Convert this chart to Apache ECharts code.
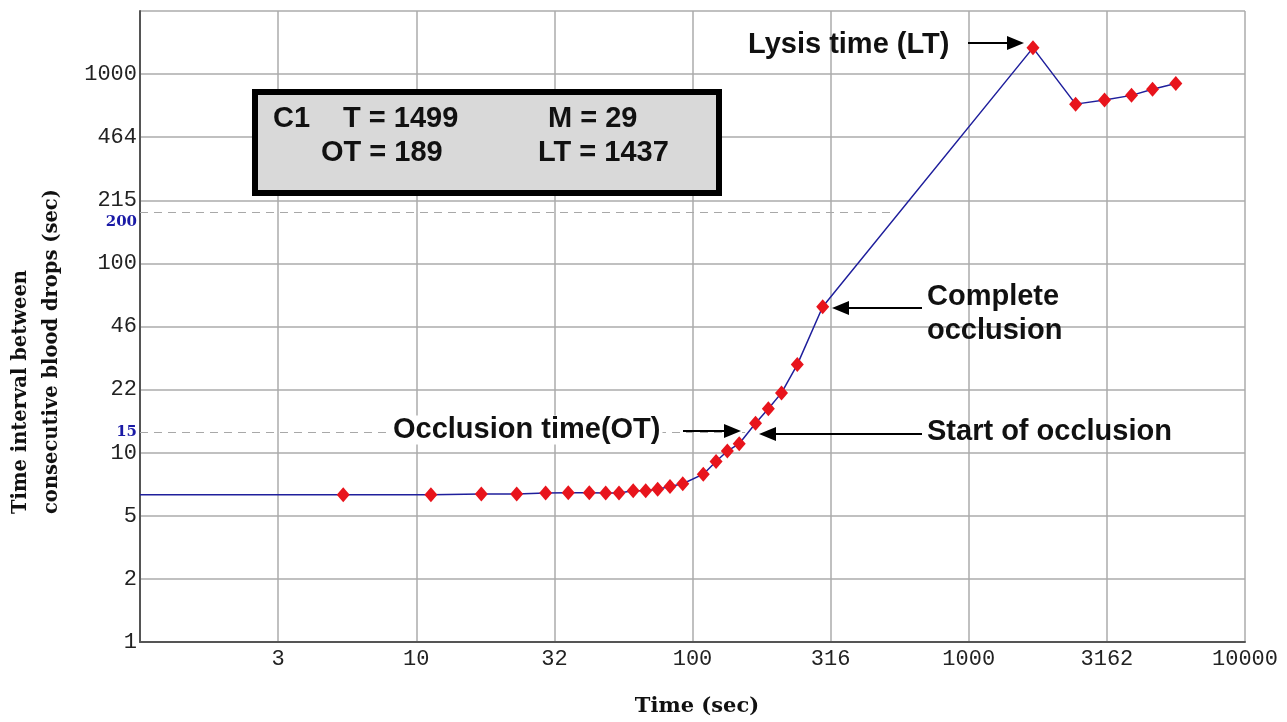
<!DOCTYPE html>
<html>
<head>
<meta charset="utf-8">
<script src="https://cdn.jsdelivr.net/npm/echarts@6/dist/echarts.min.js"></script>
<style>
  html, body { margin: 0; padding: 0; background: #fff; }
  #chart { width: 1287px; height: 722px; }
</style>
</head>
<body>
<div id="chart"></div>
<script>
// time (sec) and interval between drops (sec)
const timeSec = [1, 5.44, 11.3, 17.2, 23.1, 29.4, 35.5, 42.3, 48.5, 54.2, 61.0, 67.7, 74.8, 82.9, 92.2,
    109.4, 121.7, 133.7, 147.6, 169.1, 188.2, 210.0, 239.5, 296.0, 1708, 2437, 3101, 3883, 4627, 5617];
const intervalSec = [5.99, 5.99, 5.99, 6.05, 6.05, 6.12, 6.15, 6.15, 6.12, 6.12, 6.29, 6.29, 6.41, 6.63, 6.85,
    7.70, 8.99, 10.2, 11.16, 14.3, 17.05, 20.7, 29.2, 59.0, 1376, 694, 729, 772, 831, 893];

// tick labels (x: half decades, y: third decades)
const xTickLabels = ['', '3', '10', '32', '100', '316', '1000', '3162', '10000'];
const yTickLabels = ['1', '2', '5', '10', '22', '46', '100', '215', '464', '1000', ''];

// dashed reference lines: y position, end time, label
const refY = [186, 12.9];
const refEnd = [532, 155];
const refLabels = ['200', '15'];

const boxLines = [['C1', 'T = 1499', 'M = 29'], ['', 'OT = 189', 'LT = 1437']];

// log axes drawn as value axes in half-decade / third-decade units
const lx = v => 2 * Math.log10(v);
const ly = v => 3 * Math.log10(v);

const chart = echarts.init(document.getElementById('chart'));

const seriesData = timeSec.map((t, i) => {
    const item = { value: [lx(t), ly(intervalSec[i])] };
    if (i === 0) item.symbol = 'none';
    return item;
});

const refData = refY.map((y, i) => [
    {
        coord: [0, ly(y)],
        label: { formatter: refLabels[i], offset: i === 0 ? [0, 10] : [0, 0] }
    },
    { coord: [lx(refEnd[i]), ly(y)] }
]);

const boldSans = 'bold 29px "Liberation Sans", Arial, sans-serif';

function arrow(x1, y1, x2, y2) {
    const dir = Math.sign(x2 - x1);
    const head = 17, half = 7;
    return [
        { type: 'line', shape: { x1: x1, y1: y1, x2: x2 - dir * head, y2: y2 }, style: { stroke: '#000', lineWidth: 2 }, z: 20 },
        { type: 'polygon', shape: { points: [[x2, y2], [x2 - dir * head, y2 - half], [x2 - dir * head, y2 + half]] }, style: { fill: '#000' }, z: 20 }
    ];
}

function label(text, x, y, extra) {
    return Object.assign({
        type: 'text', x: x, y: y, z: 20,
        style: { text: text, font: boldSans, fill: '#111', verticalAlign: 'middle', align: 'left' }
    }, extra || {});
}

const graphics = [
    { type: 'rect', shape: { x: 255, y: 92, width: 464, height: 101 }, style: { fill: '#d9d9d9', stroke: '#000', lineWidth: 6 }, z: 15 },
    label(boxLines[0][0], 273, 119),
    label(boxLines[0][1], 343, 119),
    label(boxLines[0][2], 548, 119),
    label(boxLines[1][1], 321, 153),
    label(boxLines[1][2], 538, 153),

    label('Lysis time (LT)', 748, 45),
    ...arrow(968, 43, 1024, 43),
    label('Complete', 927, 297),
    label('occlusion', 927, 331),
    ...arrow(922, 308, 832, 308),
    label('Start of occlusion', 927, 432),
    ...arrow(922, 434, 759, 434),
    {
        type: 'text', x: 391, y: 430, z: 20,
        style: { text: 'Occlusion time(OT)', font: boldSans, fill: '#111', verticalAlign: 'middle', align: 'left', backgroundColor: '#fff', padding: [0, 2] }
    },
    ...arrow(683, 431, 741, 431),

    // axis titles
    {
        type: 'text', x: 21, y: 514, rotation: Math.PI / 2,
        style: { text: 'Time interval between', font: 'bold 19.5px "DejaVu Serif", serif', fill: '#111', align: 'left', verticalAlign: 'middle' }
    },
    {
        type: 'text', x: 52, y: 514, rotation: Math.PI / 2,
        style: { text: 'consecutive blood drops (sec)', font: 'bold 19.5px "DejaVu Serif", serif', fill: '#111', align: 'left', verticalAlign: 'middle' }
    },
    {
        type: 'text', x: 697, y: 707,
        style: { text: 'Time (sec)', font: 'bold 21px "DejaVu Serif", serif', fill: '#111', align: 'center', verticalAlign: 'middle' }
    }
];

const option = {
    backgroundColor: '#fff',
    animation: false,
    grid: { left: 140, right: 42, top: 11, bottom: 80, outerBoundsMode: 'none' },
    xAxis: {
        type: 'value', min: 0, max: 8, interval: 1,
        axisLine: { lineStyle: { color: '#555', width: 2 } },
        axisTick: { show: false },
        axisLabel: {
            margin: 6, color: '#222', fontFamily: '"Liberation Mono", monospace', fontSize: 22,
            formatter: v => xTickLabels[Math.round(v)] || ''
        },
        splitLine: { lineStyle: { color: '#ababab', width: 1.5 } }
    },
    yAxis: {
        type: 'value', min: 0, max: 10, interval: 1,
        axisLine: { lineStyle: { color: '#555', width: 2 } },
        axisTick: { show: false },
        axisLabel: {
            margin: 3, color: '#222', fontFamily: '"Liberation Mono", monospace', fontSize: 22,
            formatter: v => yTickLabels[Math.round(v)] || ''
        },
        splitLine: { lineStyle: { color: '#ababab', width: 1.5 } }
    },
    series: [{
        type: 'line',
        data: seriesData,
        symbol: 'diamond',
        symbolSize: [13, 15],
        itemStyle: { color: '#e8141c' },
        lineStyle: { color: '#1f1f9c', width: 1.5 },
        z: 10,
        markLine: {
            silent: true,
            symbol: ['none', 'none'],
            lineStyle: { color: '#a8a8a8', type: [8, 6], width: 1 },
            label: {
                show: true, position: 'start', distance: 3,
                color: '#1a1aa6', fontFamily: '"DejaVu Serif", serif', fontWeight: 'bold', fontSize: 15
            },
            emphasis: { disabled: true },
            data: refData
        }
    }],
    graphic: graphics
};

chart.setOption(option);
</script>
</body>
</html>
